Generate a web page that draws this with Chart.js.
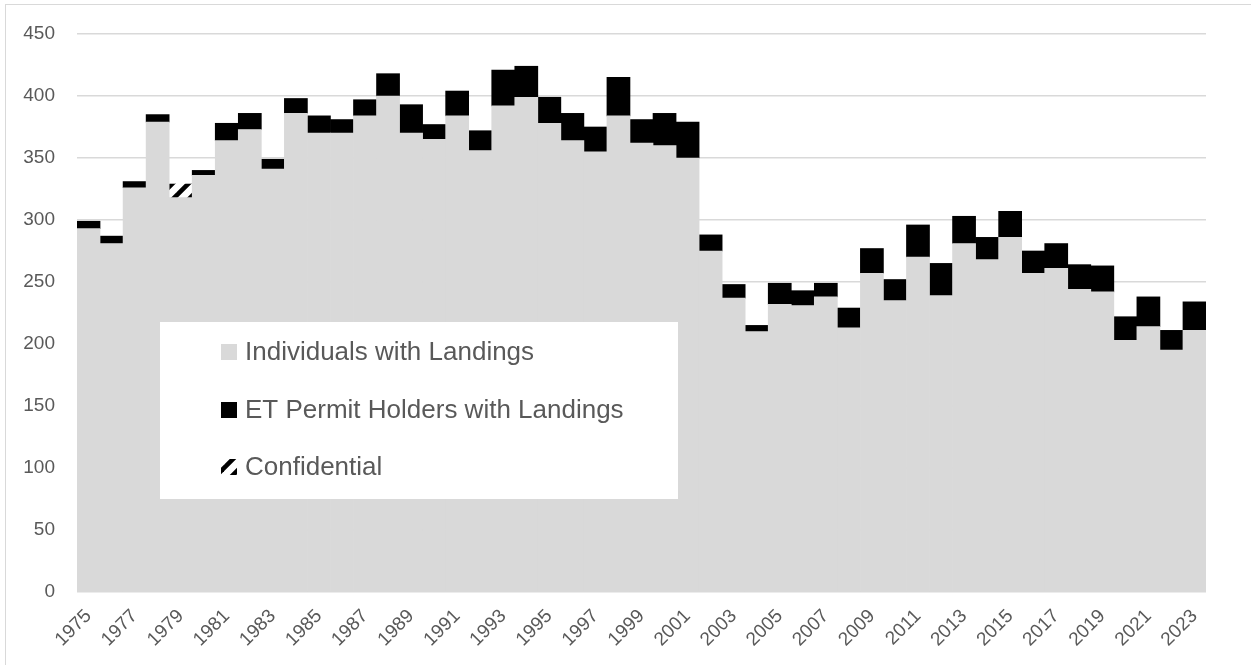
<!doctype html>
<html lang="en">
<head>
    <meta charset="utf-8">
    <title>Individuals with Landings</title>
    <style>
        body { margin: 0; background: #fff; }
    </style>
</head>
<script src="https://cdn.jsdelivr.net/npm/chart.js"></script>
<body>
<canvas id="landings-chart" width="1251" height="665"></canvas>
<script>
    // DATA
    const years = ['1975', '1976', '1977', '1978', '1979', '1980', '1981', '1982', '1983', '1984',
        '1985', '1986', '1987', '1988', '1989', '1990', '1991', '1992', '1993', '1994',
        '1995', '1996', '1997', '1998', '1999', '2000', '2001', '2002', '2003', '2004',
        '2005', '2006', '2007', '2008', '2009', '2010', '2011', '2012', '2013', '2014',
        '2015', '2016', '2017', '2018', '2019', '2020', '2021', '2022', '2023']

    const individuals = [293, 281, 326, 379, 318, 336, 364, 373, 341, 386,
        370, 370, 384, 400, 370, 365, 384, 356, 392, 399,
        378, 364, 355, 384, 362, 360, 350, 275, 237, 210,
        232, 231, 238, 213, 257, 235, 270, 239, 281, 268,
        286, 257, 261, 244, 242, 203, 214, 195, 211]

    const etPermit = [6, 6, 5, 6, null, 4, 14, 13, 8, 12,
        14, 11, 13, 18, 23, 12, 20, 16, 29, 25,
        21, 22, 20, 31, 19, 26, 29, 13, 11, 5,
        17, 12, 11, 16, 20, 17, 26, 26, 22, 18,
        21, 18, 20, 20, 21, 19, 24, 16, 23]

    const confidential = [null, null, null, null, 11, null, null, null, null, null,
        null, null, null, null, null, null, null, null, null, null,
        null, null, null, null, null, null, null, null, null, null,
        null, null, null, null, null, null, null, null, null, null,
        null, null, null, null, null, null, null, null, null]

    const yTicks = [0, 50, 100, 150, 200, 250, 300, 350, 400, 450]

    const seriesNames = ['Individuals with Landings', 'ET Permit Holders with Landings', 'Confidential']

    const textColor = '#595959'
    const fontFamily = '"Liberation Sans", Arial, sans-serif'

    // diagonal hatch used for the confidential value
    function hatchPattern(ctx) {
        const tile = document.createElement('canvas')
        tile.width = 16
        tile.height = 16
        const t = tile.getContext('2d')
        t.fillStyle = '#fff'
        t.fillRect(0, 0, 16, 16)
        t.strokeStyle = '#000'
        t.lineWidth = 4.6
        for (const c of [-12, 4, 20, 36]) {
            t.beginPath()
            t.moveTo(c + 4, -4)
            t.lineTo(c - 20, 20)
            t.stroke()
        }
        return ctx.createPattern(tile, 'repeat')
    }

    const canvas = document.getElementById('landings-chart')
    const ctx = canvas.getContext('2d')
    const hatch = hatchPattern(ctx)
    const colors = ['#d9d9d9', '#000000', hatch]

    // legend box sitting inside the plot, plus the outer chart frame
    const boxLegend = {
        id: 'boxLegend',
        beforeDraw(chart) {
            const c = chart.ctx
            c.save()
            c.strokeStyle = '#d9d9d9'
            c.lineWidth = 1
            c.strokeRect(5.5, 4.5, 1300, 700)
            c.restore()
        },
        afterDatasetsDraw(chart) {
            const c = chart.ctx
            c.save()
            c.fillStyle = '#fff'
            c.fillRect(160, 322, 518, 177)
            const rows = [352, 410, 467]
            c.font = '26px ' + fontFamily
            c.textBaseline = 'middle'
            for (let i = 0; i < seriesNames.length; i++) {
                c.fillStyle = colors[i]
                c.fillRect(221, rows[i] - 8, 16, 16)
                c.fillStyle = textColor
                c.fillText(seriesNames[i], 245, rows[i] + 1)
            }
            c.restore()
        }
    }

    new Chart(ctx, {
        type: 'bar',
        plugins: [boxLegend],
        data: {
            labels: years,
            datasets: [{
                label: seriesNames[0],
                data: individuals,
                backgroundColor: colors[0]
            }, {
                label: seriesNames[1],
                data: etPermit,
                backgroundColor: colors[1]
            }, {
                label: seriesNames[2],
                data: confidential,
                backgroundColor: colors[2]
            }]
        },
        options: {
            responsive: false,
            animation: false,
            datasets: {
                bar: {
                    barPercentage: 1,
                    categoryPercentage: 1,
                    borderWidth: 0
                }
            },
            layout: {
                padding: {left: 0, top: 34, right: 45, bottom: 0}
            },
            plugins: {
                legend: {display: false},
                tooltip: {enabled: false}
            },
            scales: {
                x: {
                    stacked: true,
                    grid: {display: false},
                    border: {display: false},
                    afterFit(scale) {
                        scale.height = 73
                    },
                    ticks: {
                        autoSkip: false,
                        maxRotation: 45,
                        minRotation: 45,
                        padding: 5,
                        color: textColor,
                        font: {family: fontFamily, size: 19},
                        callback: (v, i) => i % 2 === 0 ? years[i] : ''
                    }
                },
                y: {
                    stacked: true,
                    min: yTicks[0],
                    max: yTicks[yTicks.length - 1],
                    afterFit(scale) {
                        scale.width = 77
                    },
                    afterBuildTicks(scale) {
                        scale.ticks = yTicks.map(v => ({value: v}))
                    },
                    grid: {color: '#d9d9d9', lineWidth: 1.5, drawTicks: false},
                    border: {display: false},
                    ticks: {
                        padding: 22,
                        color: textColor,
                        font: {family: fontFamily, size: 19}
                    }
                }
            }
        }
    })
</script>
</body>
</html>
